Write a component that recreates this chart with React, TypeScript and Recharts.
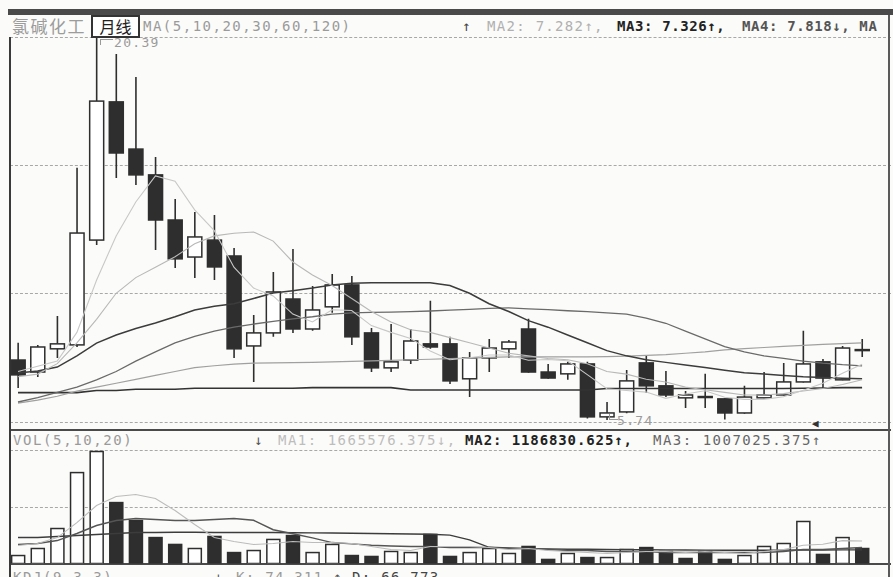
import { ComposedChart, Bar, Line, XAxis, YAxis } from "recharts";

// monthly candles (price in yuan)
const open = [8.04, 7.58, 8.47, 8.62, 12.64, 17.94, 16.13, 15.14, 13.41, 11.99, 12.64, 12.03, 8.58, 9.08, 10.38, 9.23, 10.08, 10.92, 9.08, 7.74, 8.04, 8.66, 8.66, 7.32, 8.12, 8.47, 9.23, 7.58, 7.51, 7.89, 5.86, 6.05, 7.93, 7.05, 6.59, 6.64, 6.55, 6.01, 6.59, 6.7, 7.2, 7.97, 7.28, 8.43];
const high = [8.7, 8.62, 9.73, 15.41, 20.39, 19.78, 18.89, 15.83, 14.22, 13.72, 13.6, 12.34, 9.77, 11.42, 12.3, 10.88, 11.34, 11.26, 9.27, 9.42, 9.23, 10.31, 8.93, 8.35, 8.85, 8.81, 9.62, 7.89, 7.97, 7.97, 6.43, 7.66, 8.2, 7.62, 6.85, 7.51, 6.57, 7.05, 7.58, 7.93, 9.16, 8.08, 8.58, 8.85];
const low = [6.97, 7.39, 8.12, 8.54, 12.45, 15.02, 14.75, 12.26, 11.57, 11.19, 11.11, 8.12, 7.2, 8.93, 9.08, 9.16, 9.85, 8.62, 7.58, 7.58, 7.89, 8.47, 7.12, 6.62, 7.58, 8.12, 7.55, 7.32, 7.28, 5.8, 5.74, 6.0, 6.78, 6.62, 6.2, 6.2, 5.76, 5.98, 6.57, 6.68, 7.18, 6.97, 7.26, 8.16];
const close = [7.47, 8.54, 8.66, 12.91, 17.97, 15.98, 15.14, 13.41, 11.92, 12.76, 11.61, 8.47, 9.08, 10.65, 9.23, 9.96, 10.92, 8.93, 7.74, 7.97, 8.77, 8.54, 7.24, 8.12, 8.5, 8.73, 7.58, 7.35, 7.89, 5.86, 6.01, 7.24, 7.05, 6.7, 6.7, 6.61, 6.01, 6.62, 6.7, 7.2, 7.89, 7.35, 8.5, 8.44];

// moving averages MA(5,10,20,30,60,120)
const ma5 = [7.6, 7.8, 8.0, 9.1, 11.1, 12.8, 14.1, 15.1, 14.9, 13.8, 13.0, 11.6, 10.8, 10.5, 9.8, 9.5, 9.97, 9.94, 9.36, 9.1, 8.87, 8.39, 8.05, 8.13, 8.23, 8.23, 8.03, 8.06, 8.01, 7.48, 6.94, 6.87, 6.81, 6.57, 6.74, 6.86, 6.61, 6.53, 6.53, 6.63, 6.88, 7.15, 7.53, 7.88];
const ma10 = [7.4, 7.5, 7.9, 8.7, 9.6, 10.6, 11.2, 11.6, 12.0, 12.5, 12.8, 12.9, 12.95, 12.6, 11.8, 11.3, 10.9, 10.4, 9.9, 9.5, 9.2, 9.1, 8.9, 8.7, 8.5, 8.3, 8.2, 8.1, 8.05, 7.9, 7.6, 7.5, 7.3, 7.2, 7.0, 6.9, 6.8, 6.7, 6.7, 6.75, 6.85, 6.95, 7.1, 7.282];
const ma20 = [7.54, 7.62, 7.77, 8.2, 8.69, 9.0, 9.25, 9.46, 9.7, 9.96, 10.1, 10.2, 10.4, 10.61, 10.7, 10.8, 10.92, 10.98, 11.0, 11.0, 11.0, 11.0, 10.9, 10.6, 10.2, 9.9, 9.55, 9.3, 9.0, 8.7, 8.4, 8.2, 8.05, 7.95, 7.85, 7.75, 7.65, 7.55, 7.5, 7.45, 7.4, 7.37, 7.34, 7.326];
const ma30 = [6.43, 6.6, 6.8, 7.0, 7.28, 7.6, 8.0, 8.35, 8.7, 8.95, 9.15, 9.3, 9.42, 9.52, 9.62, 9.7, 9.8, 9.85, 9.87, 9.88, 9.9, 9.92, 9.95, 9.98, 10.02, 10.04, 10.0, 9.97, 9.93, 9.9, 9.85, 9.8, 9.65, 9.45, 9.15, 8.85, 8.55, 8.35, 8.2, 8.1, 8.0, 7.92, 7.86, 7.818];
const ma60 = [6.39, 6.5, 6.65, 6.85, 7.0, 7.15, 7.3, 7.45, 7.6, 7.75, 7.82, 7.88, 7.92, 7.93, 7.94, 7.95, 7.97, 7.99, 8.01, 8.03, 8.05, 8.07, 8.09, 8.11, 8.14, 8.16, 8.16, 8.16, 8.16, 8.16, 8.17, 8.19, 8.22, 8.25, 8.3, 8.35, 8.43, 8.48, 8.52, 8.56, 8.6, 8.64, 8.67, 8.7];
const ma120 = [6.79, 6.79, 6.79, 6.79, 6.87, 6.87, 6.92, 6.92, 6.92, 6.96, 6.96, 6.96, 6.96, 6.96, 6.96, 6.98, 6.98, 6.98, 6.98, 6.98, 6.89, 6.89, 6.89, 6.89, 6.89, 6.89, 6.89, 6.89, 6.89, 6.89, 6.95, 6.95, 6.95, 6.95, 6.95, 6.95, 6.95, 6.95, 6.95, 6.95, 6.96, 6.97, 6.98, 6.98];

// volume (shares) and its colour direction
const volume = [590000, 1110000, 2590000, 6730000, 8290000, 4510000, 3180000, 1920000, 1410000, 1110000, 2000000, 810000, 960000, 1780000, 2070000, 810000, 1410000, 590000, 520000, 890000, 810000, 2150000, 520000, 810000, 1110000, 740000, 1260000, 300000, 740000, 440000, 440000, 1040000, 1180000, 890000, 370000, 890000, 300000, 590000, 1260000, 1480000, 3110000, 670000, 1920000, 1110000];
const volDir = ["u", "u", "u", "u", "u", "d", "d", "d", "d", "u", "d", "d", "u", "u", "d", "u", "u", "d", "d", "u", "u", "d", "d", "u", "u", "u", "d", "d", "u", "d", "u", "u", "d", "d", "d", "d", "d", "u", "u", "u", "u", "d", "u", "d"];
const volMa5 = [1330000, 1480000, 1920000, 3030000, 4290000, 4960000, 5110000, 4810000, 3920000, 2890000, 1920000, 1630000, 1410000, 1480000, 1630000, 1550000, 1550000, 1480000, 1260000, 1040000, 960000, 1260000, 1260000, 1260000, 1180000, 1040000, 1110000, 960000, 890000, 810000, 740000, 810000, 890000, 890000, 810000, 890000, 810000, 740000, 890000, 1040000, 1350000, 1420000, 1690000, 1665576];
const volMa10 = [1410000, 1480000, 1700000, 2220000, 2810000, 3180000, 3330000, 3260000, 3180000, 3180000, 3260000, 3330000, 3200000, 2500000, 2200000, 1900000, 1550000, 1450000, 1350000, 1300000, 1260000, 1260000, 1180000, 1180000, 1180000, 1110000, 1110000, 1040000, 960000, 960000, 890000, 890000, 890000, 810000, 810000, 810000, 810000, 810000, 810000, 890000, 1040000, 1040000, 1110000, 1186831];
const volMa20 = [1920000, 1920000, 2000000, 2070000, 2150000, 2220000, 2290000, 2300000, 2310000, 2310000, 2300000, 2300000, 2290000, 2290000, 2280000, 2270000, 2260000, 2240000, 2220000, 2200000, 2180000, 2160000, 2100000, 1750000, 1200000, 1150000, 1100000, 1080000, 1060000, 1050000, 1040000, 1030000, 1020000, 1010000, 1000000, 990000, 980000, 980000, 980000, 990000, 1000000, 1000000, 1010000, 1007025];

const candles = close.map((c, i) => ({
  idx: i,
  open: open[i],
  high: high[i],
  low: low[i],
  close: c,
  range: [low[i], high[i]],
  ma5: ma5[i],
  ma10: ma10[i],
  ma20: ma20[i],
  ma30: ma30[i],
  ma60: ma60[i],
  ma120: ma120[i],
}));

const volumes = volume.map((v, i) => ({
  idx: i,
  vol: v,
  dir: volDir[i],
  m5: volMa5[i],
  m10: volMa10[i],
  m20: volMa20[i],
}));

const INK = "#2e2e2e";
const MONO = '"DejaVu Sans Mono", monospace';
const CJK = '"Noto Sans CJK SC", sans-serif';

const Candle = (props: any) => {
  const { x, y, width, height, payload } = props;
  const { open: o, close: c, high: h, low: l } = payload;
  const cx = x + width / 2;
  const py = (v: number) => y + ((h - v) / (h - l)) * height;
  const up = c >= o;
  const top = py(Math.max(o, c));
  const bot = py(Math.min(o, c));
  const bw = 14;
  return (
    <g>
      <line x1={cx} x2={cx} y1={y} y2={top} stroke={INK} strokeWidth={1.6} />
      <line x1={cx} x2={cx} y1={bot} y2={y + height} stroke={INK} strokeWidth={1.6} />
      <rect
        x={cx - bw / 2}
        y={top}
        width={bw}
        height={Math.max(bot - top, 1)}
        fill={up ? "#fff" : INK}
        stroke={INK}
        strokeWidth={1.5}
      />
    </g>
  );
};

const VolBar = (props: any) => {
  const { x, y, width, height, payload } = props;
  const cx = x + width / 2;
  const bw = 13;
  return (
    <rect
      x={cx - bw / 2}
      y={y}
      width={bw}
      height={Math.max(height, 1)}
      fill={payload.dir === "u" ? "#fff" : INK}
      stroke={INK}
      strokeWidth={1.5}
    />
  );
};

const HLine = ({ y, dashed, color = "#a8a8a8", w = 1 }: { y: number; dashed?: boolean; color?: string; w?: number }) => (
  <div
    style={{
      position: "absolute",
      left: 10,
      width: 881,
      top: y,
      borderTop: `${w}px ${dashed ? "dashed" : "solid"} ${color}`,
    }}
  />
);

const txt = (left: number, top: number, color: string, extra: any = {}) => ({
  position: "absolute" as const,
  left,
  top,
  color,
  fontFamily: MONO,
  fontSize: 14,
  lineHeight: "16px",
  letterSpacing: 1.3,
  whiteSpace: "nowrap" as const,
  ...extra,
});

export default function App() {
  return (
    <div
      style={{
        position: "absolute",
        left: 0,
        top: 0,
        width: 893,
        height: 577,
        overflow: "hidden",
        background: "#fbfbf9",
      }}
    >
      {/* frame */}
      <div style={{ position: "absolute", left: 8, top: 9, width: 885, height: 6, background: "#4a4a4a" }} />
      <HLine y={37} dashed />
      <HLine y={165} dashed />
      <HLine y={293} dashed />
      <HLine y={422} dashed />
      <HLine y={429} color="#4a4a4a" w={2} />
      <HLine y={450} dashed />
      <HLine y={507} dashed />
      <HLine y={563} color="#4a4a4a" w={2} />
      <div style={{ position: "absolute", left: 9, top: 37, width: 2, height: 540, background: "#3a3a3a" }} />
      <div style={{ position: "absolute", left: 888, top: 15, width: 2, height: 562, background: "#5a5a5a" }} />

      {/* price panel */}
      <div style={{ position: "absolute", left: 0, top: 0 }}>
        <ComposedChart
          width={893}
          height={430}
          data={candles}
          margin={{ top: 32.52, bottom: 6.35, left: 8.19, right: 21.1 }}
        >
          <XAxis dataKey="idx" hide />
          <YAxis hide type="number" domain={[5.6, 20.6]} allowDataOverflow />
          <Bar dataKey="range" shape={<Candle />} isAnimationActive={false} />
          <Line type="linear" dataKey="ma120" stroke="#333" strokeWidth={1.6} dot={false} isAnimationActive={false} />
          <Line type="linear" dataKey="ma60" stroke="#a0a0a0" strokeWidth={1.2} dot={false} isAnimationActive={false} />
          <Line type="linear" dataKey="ma30" stroke="#6a6a6a" strokeWidth={1.3} dot={false} isAnimationActive={false} />
          <Line type="linear" dataKey="ma20" stroke="#3c3c3c" strokeWidth={1.5} dot={false} isAnimationActive={false} />
          <Line type="linear" dataKey="ma10" stroke="#b8b8b8" strokeWidth={1.1} dot={false} isAnimationActive={false} />
          <Line type="linear" dataKey="ma5" stroke="#c8c8c8" strokeWidth={1.1} dot={false} isAnimationActive={false} />
        </ComposedChart>
      </div>

      {/* volume panel */}
      <div style={{ position: "absolute", left: 0, top: 440 }}>
        <ComposedChart
          width={893}
          height={130}
          data={volumes}
          margin={{ top: 8, bottom: 6.5, left: 8.19, right: 21.1 }}
        >
          <XAxis dataKey="idx" hide />
          <YAxis hide type="number" domain={[0, 8550000]} allowDataOverflow />
          <Bar dataKey="vol" shape={<VolBar />} isAnimationActive={false} />
          <Line type="linear" dataKey="m20" stroke="#3c3c3c" strokeWidth={1.4} dot={false} isAnimationActive={false} />
          <Line type="linear" dataKey="m10" stroke="#555" strokeWidth={1.4} dot={false} isAnimationActive={false} />
          <Line type="linear" dataKey="m5" stroke="#bcbcbc" strokeWidth={1.1} dot={false} isAnimationActive={false} />
        </ComposedChart>
      </div>

      {/* header row */}
      <div style={txt(12, 16, "#9c9c9c", { fontFamily: CJK, fontSize: 17, lineHeight: "20px", letterSpacing: 1.5 })}>氯碱化工</div>
      <div
        style={{
          position: "absolute",
          left: 91,
          top: 15,
          width: 49,
          height: 23,
          boxSizing: "border-box",
          border: "2px solid #333",
          background: "#fff",
          color: "#222",
          fontFamily: CJK,
          fontSize: 16,
          lineHeight: "19px",
          textAlign: "center",
        }}
      >
        月线
      </div>
      <div style={txt(143, 18, "#9a9a9a", { letterSpacing: 1.5 })}>MA(5,10,20,30,60,120)</div>
      <div style={txt(462, 18, "#444")}>↑</div>
      <div style={txt(487, 18, "#b0b0b0")}>MA2: 7.282↑,</div>
      <div style={txt(617, 18, "#222", { fontWeight: 700, letterSpacing: 0.6 })}>MA3: 7.326↑,</div>
      <div style={txt(742, 18, "#555", { fontWeight: 700, letterSpacing: 0.6 })}>MA4: 7.818↓, MA</div>

      {/* extreme labels */}
      <div style={{ position: "absolute", left: 100, top: 39, width: 12, height: 5, borderTop: "1px solid #999", borderLeft: "1px solid #999" }} />
      <div style={txt(114, 35, "#9a9a9a", { fontSize: 13 })}>20.39</div>
      <div style={{ position: "absolute", left: 609, top: 414, width: 8, height: 5, borderLeft: "1px solid #999", borderBottom: "1px solid #999" }} />
      <div style={txt(617, 413, "#9a9a9a", { fontSize: 13 })}>5.74</div>
      <div style={txt(812, 416, "#333", { fontSize: 11, letterSpacing: 0 })}>◀</div>

      {/* volume header */}
      <div style={txt(13, 432, "#9a9a9a", { letterSpacing: 1.6 })}>VOL(5,10,20)</div>
      <div style={txt(254, 432, "#555")}>↓</div>
      <div style={txt(278, 432, "#bdbdbd", { letterSpacing: 1.5 })}>MA1: 1665576.375↓,</div>
      <div style={txt(465, 432, "#222", { fontWeight: 700, letterSpacing: 0.9 })}>MA2: 1186830.625↑,</div>
      <div style={txt(653, 432, "#666", { letterSpacing: 1.5 })}>MA3: 1007025.375↑</div>

      {/* next indicator row, mostly cut off */}
      <div style={txt(13, 569, "#9a9a9a", { letterSpacing: 1.6 })}>KDJ(9,3,3)</div>
      <div style={txt(214, 569, "#555")}>↓</div>
      <div style={txt(236, 569, "#9a9a9a")}>K: 74.311</div>
      <div style={txt(333, 569, "#555")}>↑</div>
      <div style={txt(352, 569, "#444")}>D: 66.773</div>
    </div>
  );
}
